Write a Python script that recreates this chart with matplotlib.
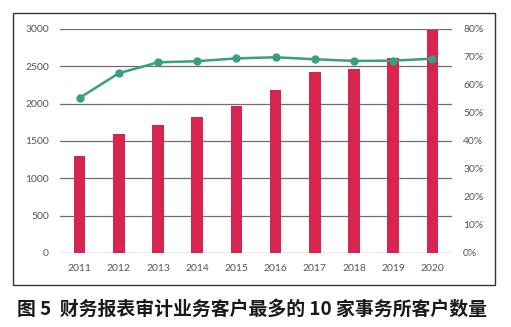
import matplotlib.pyplot as plt
import matplotlib.patches as patches
import numpy as np

# client counts of top-10 firms, and their share
years = ['2011', '2012', '2013', '2014', '2015', '2016', '2017', '2018', '2019', '2020']
clients = [1300, 1590, 1715, 1820, 1965, 2180, 2425, 2465, 2610, 2985]
share = [55.4, 64.2, 68.1, 68.5, 69.5, 69.9, 69.2, 68.6, 68.7, 69.4]

left_ticks = [0, 500, 1000, 1500, 2000, 2500, 3000]
right_ticks = [0, 10, 20, 30, 40, 50, 60, 70, 80]

W, H = 511, 327
fig = plt.figure(figsize=(W / 100, H / 100), dpi=100)

# outer frame around the chart
fig.patches.append(patches.Rectangle((13 / W, 1 - 285 / H), (495 - 13) / W, (285 - 13) / H,
                                     transform=fig.transFigure, fill=False,
                                     edgecolor='#333333', linewidth=1.0))

ax = fig.add_axes([60 / W, 1 - 253 / H, (452 - 60) / W, (253 - 29) / H])
x = np.arange(len(years))
ax.bar(x, clients, width=0.3, color='#d8254f', zorder=3)
ax.set_xlim(-0.5, len(years) - 0.5)
ax.set_ylim(0, 3000)
ax.set_yticks(left_ticks)
ax.set_xticks(x)
ax.set_xticklabels(years)
ax.grid(axis='y', color='#6e6e6e', linewidth=0.9, zorder=0)
for s in ax.spines.values():
    s.set_visible(False)
ax.tick_params(length=0, labelsize=7.5, labelcolor='#555555', pad=8)
for lab in ax.get_xticklabels() + ax.get_yticklabels():
    lab.set_family('Lato')

ax2 = ax.twinx()
ax2.plot(x, share, color='#3a9e80', linewidth=1.8, marker='o', markersize=5, zorder=4)
ax2.set_ylim(0, 80)
ax2.set_yticks(right_ticks)
ax2.set_yticklabels([str(t) + '%' for t in right_ticks])
for s in ax2.spines.values():
    s.set_visible(False)
ax2.tick_params(length=0, labelsize=7.5, labelcolor='#555555', pad=8)
for lab in ax2.get_yticklabels():
    lab.set_family('Lato')

fig.text(17 / W, 1 - 309 / H, '图 5  财务报表审计业务客户最多的 10 家事务所客户数量',
         family=['Noto Sans CJK SC', 'DejaVu Sans'], fontweight='bold',
         fontsize=13.6, color='#1a1a1a', va='center', ha='left')

plt.savefig('out.png', dpi=100)
